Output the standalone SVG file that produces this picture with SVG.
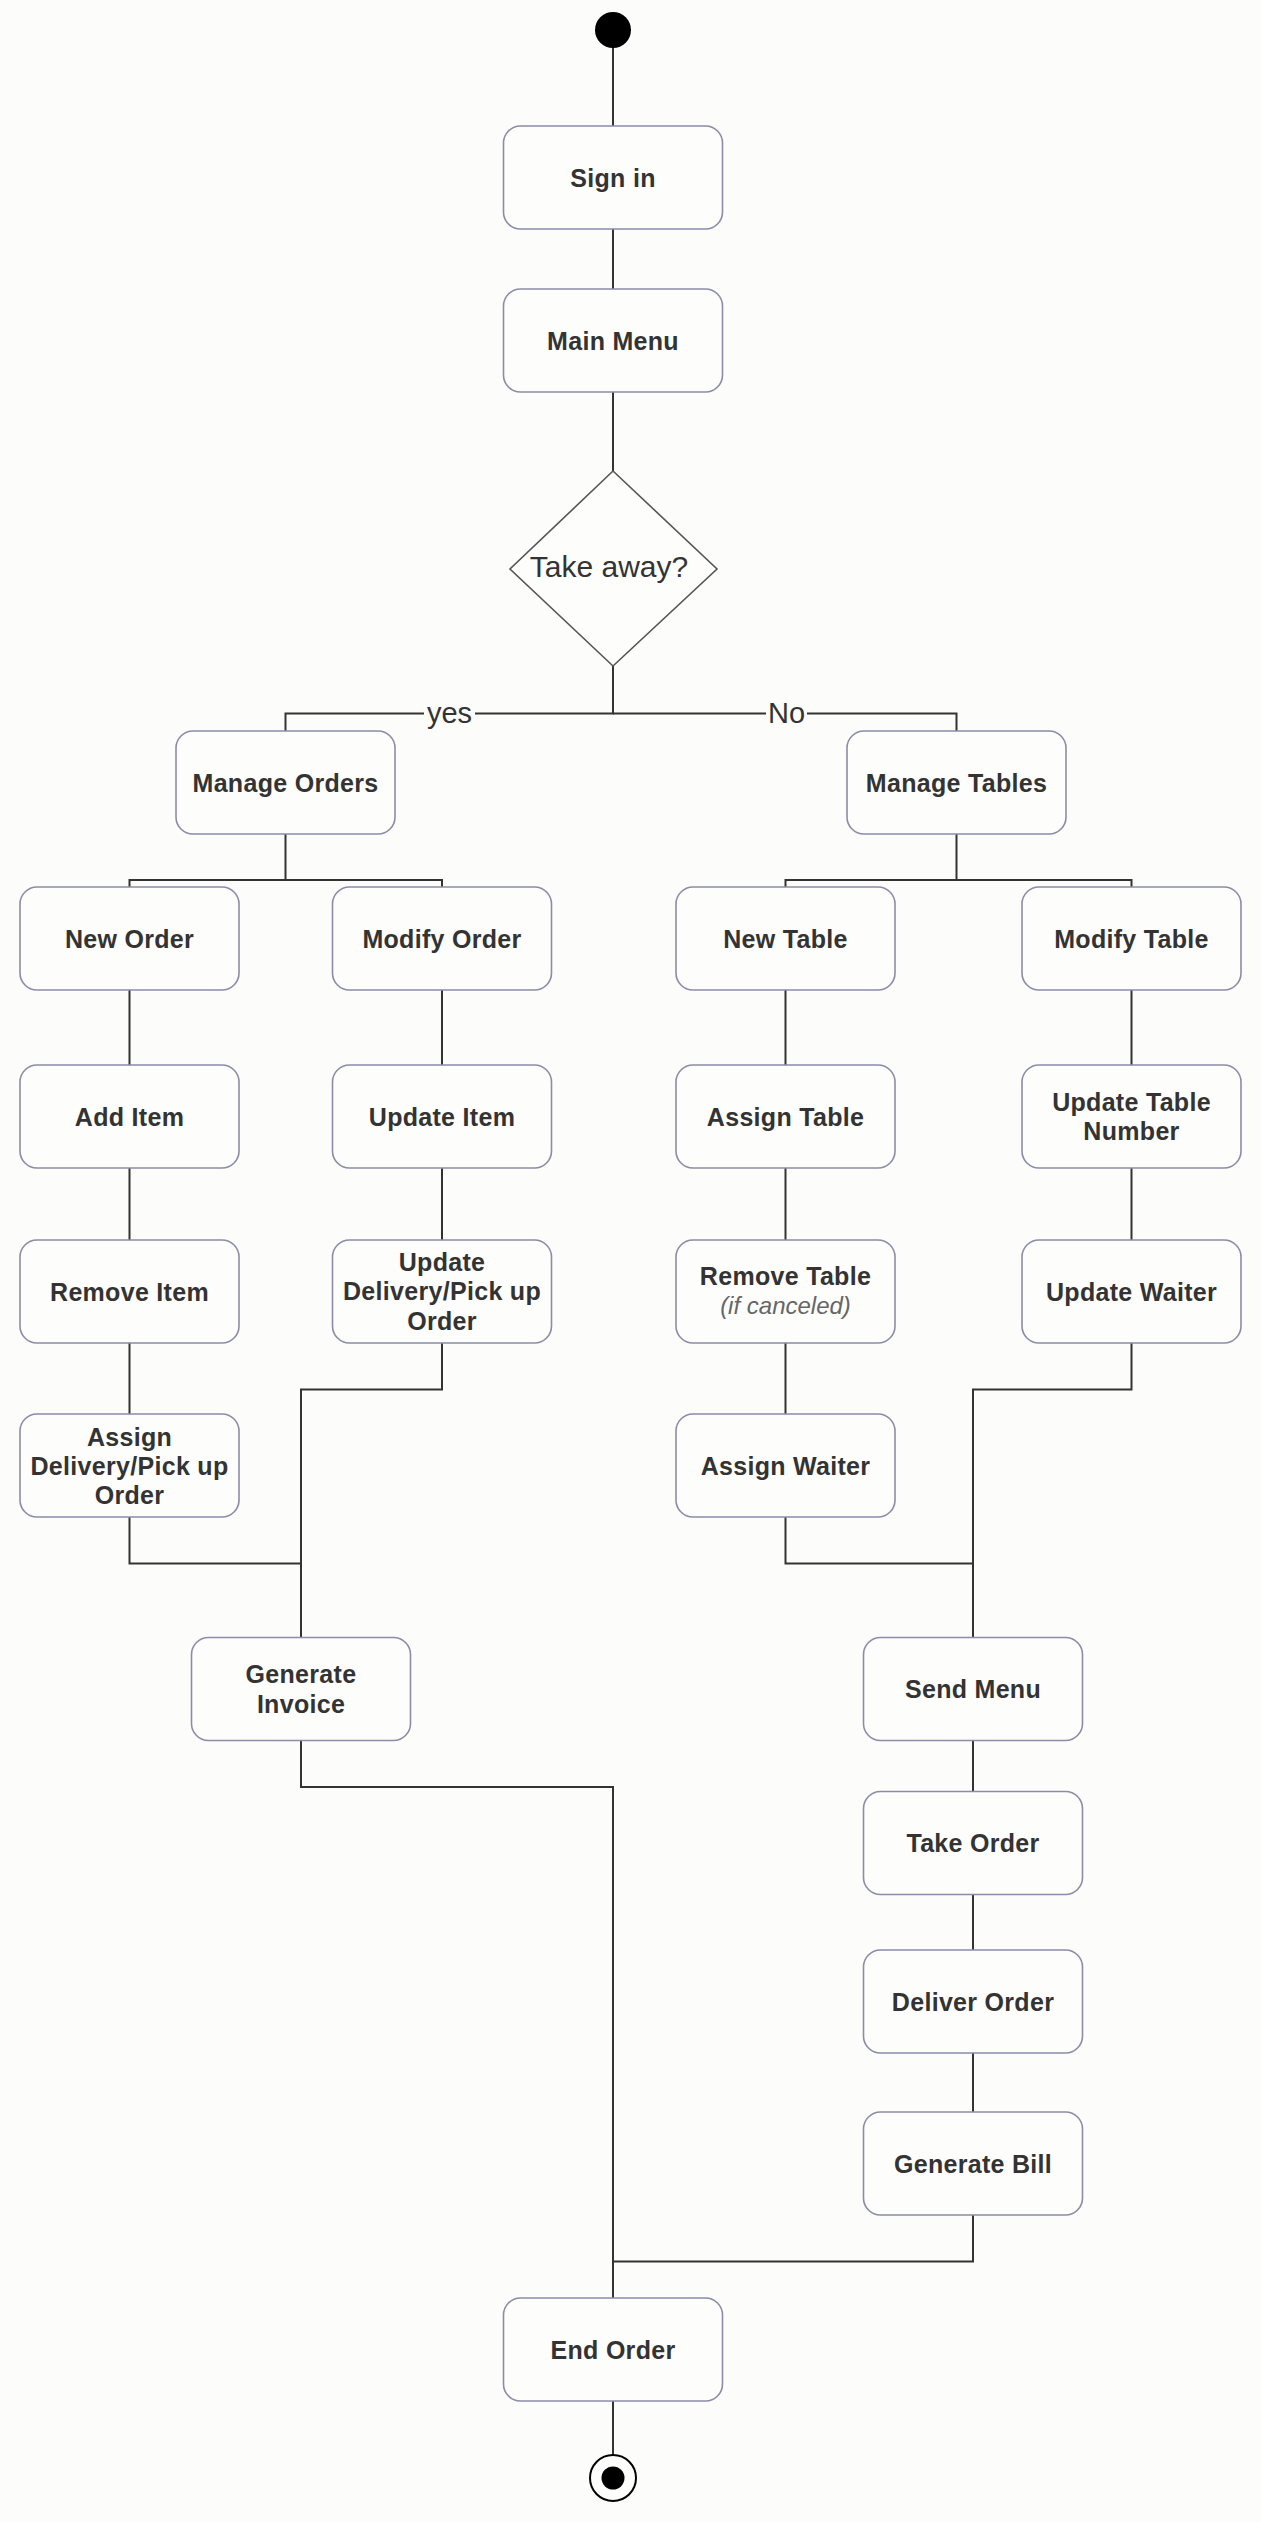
<svg xmlns="http://www.w3.org/2000/svg" width="1261" height="2522" viewBox="0 0 1261 2522">
  <style>
    .box { fill: #fdfdfb; stroke: #8c8ca8; stroke-width: 1.6; }
    .t { font-family: "Liberation Sans", Arial, sans-serif; font-size: 25px; font-weight: bold; fill: #333; text-anchor: middle; letter-spacing: 0.3px; }
    .ti { font-family: "Liberation Sans", Arial, sans-serif; font-size: 24px; font-style: italic; fill: #666; text-anchor: middle; }
    .lbl { font-family: "Liberation Sans", Arial, sans-serif; font-size: 29px; fill: #333; text-anchor: middle; }
    .conn { fill: none; stroke: #333; stroke-width: 2; }
    .bg { fill: #fcfcfa; }
  </style>
  <rect class="bg" x="0" y="0" width="1261" height="2522"/>

  <g id="connectors">
    <path class="conn" d="M613 46 V126"/>
    <path class="conn" d="M613 229 V289"/>
    <path class="conn" d="M613 392 V471"/>
    <path class="conn" d="M613 666 V713.5 H285.5 V731"/>
    <path class="conn" d="M613 713.5 H956.5 V731"/>
    <path class="conn" d="M285.5 834 V880 H129.5 V887 M285.5 880 H442 V887"/>
    <path class="conn" d="M956.5 834 V880 H785.5 V887 M956.5 880 H1131.5 V887"/>
    <path class="conn" d="M129.5 990 V1065 M129.5 1168 V1240 M129.5 1343 V1414"/>
    <path class="conn" d="M442 990 V1065 M442 1168 V1240"/>
    <path class="conn" d="M785.5 990 V1065 M785.5 1168 V1240 M785.5 1343 V1414"/>
    <path class="conn" d="M1131.5 990 V1065 M1131.5 1168 V1240"/>
    <path class="conn" d="M129.5 1517 V1563.5 H301"/>
    <path class="conn" d="M442 1343 V1389.5 H301 V1637.5"/>
    <path class="conn" d="M301 1740.5 V1787 H613 V2298"/>
    <path class="conn" d="M785.5 1517 V1563.5 H973"/>
    <path class="conn" d="M1131.5 1343 V1389.5 H973 V1637.5"/>
    <path class="conn" d="M973 1740.5 V1791.5 M973 1894.5 V1950 M973 2053 V2112"/>
    <path class="conn" d="M973 2215 V2261.5 H613"/>
    <path class="conn" d="M613 2401 V2455"/>
  </g>

  <g id="edge-labels">
    <rect class="bg" x="424" y="702" width="51" height="24"/>
    <text class="lbl" x="449.5" y="723">yes</text>
    <rect class="bg" x="766" y="702" width="41" height="24"/>
    <text class="lbl" x="786.5" y="723">No</text>
  </g>

  <g id="start"><circle cx="613" cy="30" r="18" fill="#000"/></g>

  <g id="sign-in"><rect class="box" x="503.5" y="126" width="219" height="103" rx="17"/><text class="t" x="613" y="186.5">Sign in</text></g>
  <g id="main-menu"><rect class="box" x="503.5" y="289" width="219" height="103" rx="17"/><text class="t" x="613" y="349.5">Main Menu</text></g>

  <g id="take-away">
    <polygon points="613,471 717,569 613,666 510,569" fill="#fdfdfb" stroke="#555" stroke-width="1.6"/>
    <text x="609" y="577" font-family="Liberation Sans, Arial, sans-serif" font-size="30" fill="#333" text-anchor="middle">Take away?</text>
  </g>

  <g id="manage-orders"><rect class="box" x="176" y="731" width="219" height="103" rx="17"/><text class="t" x="285.5" y="791.5">Manage Orders</text></g>
  <g id="manage-tables"><rect class="box" x="847" y="731" width="219" height="103" rx="17"/><text class="t" x="956.5" y="791.5">Manage Tables</text></g>

  <g id="new-order"><rect class="box" x="20" y="887" width="219" height="103" rx="17"/><text class="t" x="129.5" y="947.5">New Order</text></g>
  <g id="modify-order"><rect class="box" x="332.5" y="887" width="219" height="103" rx="17"/><text class="t" x="442" y="947.5">Modify Order</text></g>
  <g id="new-table"><rect class="box" x="676" y="887" width="219" height="103" rx="17"/><text class="t" x="785.5" y="947.5">New Table</text></g>
  <g id="modify-table"><rect class="box" x="1022" y="887" width="219" height="103" rx="17"/><text class="t" x="1131.5" y="947.5">Modify Table</text></g>

  <g id="add-item"><rect class="box" x="20" y="1065" width="219" height="103" rx="17"/><text class="t" x="129.5" y="1125.5">Add Item</text></g>
  <g id="update-item"><rect class="box" x="332.5" y="1065" width="219" height="103" rx="17"/><text class="t" x="442" y="1125.5">Update Item</text></g>
  <g id="assign-table"><rect class="box" x="676" y="1065" width="219" height="103" rx="17"/><text class="t" x="785.5" y="1125.5">Assign Table</text></g>
  <g id="update-table-number"><rect class="box" x="1022" y="1065" width="219" height="103" rx="17"/><text class="t" x="1131.5" y="1111">Update Table</text><text class="t" x="1131.5" y="1140">Number</text></g>

  <g id="remove-item"><rect class="box" x="20" y="1240" width="219" height="103" rx="17"/><text class="t" x="129.5" y="1300.5">Remove Item</text></g>
  <g id="update-delivery"><rect class="box" x="332.5" y="1240" width="219" height="103" rx="17"/><text class="t" x="442" y="1270.5">Update</text><text class="t" x="442" y="1300">Delivery/Pick up</text><text class="t" x="442" y="1329.5">Order</text></g>
  <g id="remove-table"><rect class="box" x="676" y="1240" width="219" height="103" rx="17"/><text class="t" x="785.5" y="1285">Remove Table</text><text class="ti" x="785.5" y="1314">(if canceled)</text></g>
  <g id="update-waiter"><rect class="box" x="1022" y="1240" width="219" height="103" rx="17"/><text class="t" x="1131.5" y="1300.5">Update Waiter</text></g>

  <g id="assign-delivery"><rect class="box" x="20" y="1414" width="219" height="103" rx="17"/><text class="t" x="129.5" y="1445.5">Assign</text><text class="t" x="129.5" y="1474.5">Delivery/Pick up</text><text class="t" x="129.5" y="1503.5">Order</text></g>
  <g id="assign-waiter"><rect class="box" x="676" y="1414" width="219" height="103" rx="17"/><text class="t" x="785.5" y="1474.5">Assign Waiter</text></g>

  <g id="generate-invoice"><rect class="box" x="191.5" y="1637.5" width="219" height="103" rx="17"/><text class="t" x="301" y="1683">Generate</text><text class="t" x="301" y="1712.5">Invoice</text></g>
  <g id="send-menu"><rect class="box" x="863.5" y="1637.5" width="219" height="103" rx="17"/><text class="t" x="973" y="1698">Send Menu</text></g>
  <g id="take-order"><rect class="box" x="863.5" y="1791.5" width="219" height="103" rx="17"/><text class="t" x="973" y="1852">Take Order</text></g>
  <g id="deliver-order"><rect class="box" x="863.5" y="1950" width="219" height="103" rx="17"/><text class="t" x="973" y="2010.5">Deliver Order</text></g>
  <g id="generate-bill"><rect class="box" x="863.5" y="2112" width="219" height="103" rx="17"/><text class="t" x="973" y="2172.5">Generate Bill</text></g>

  <g id="end-order"><rect class="box" x="503.5" y="2298" width="219" height="103" rx="17"/><text class="t" x="613" y="2358.5">End Order</text></g>

  <g id="end"><circle cx="613" cy="2478" r="23" fill="#fdfdfb" stroke="#000" stroke-width="2"/><circle cx="613" cy="2478" r="11.5" fill="#000"/></g>
</svg>
